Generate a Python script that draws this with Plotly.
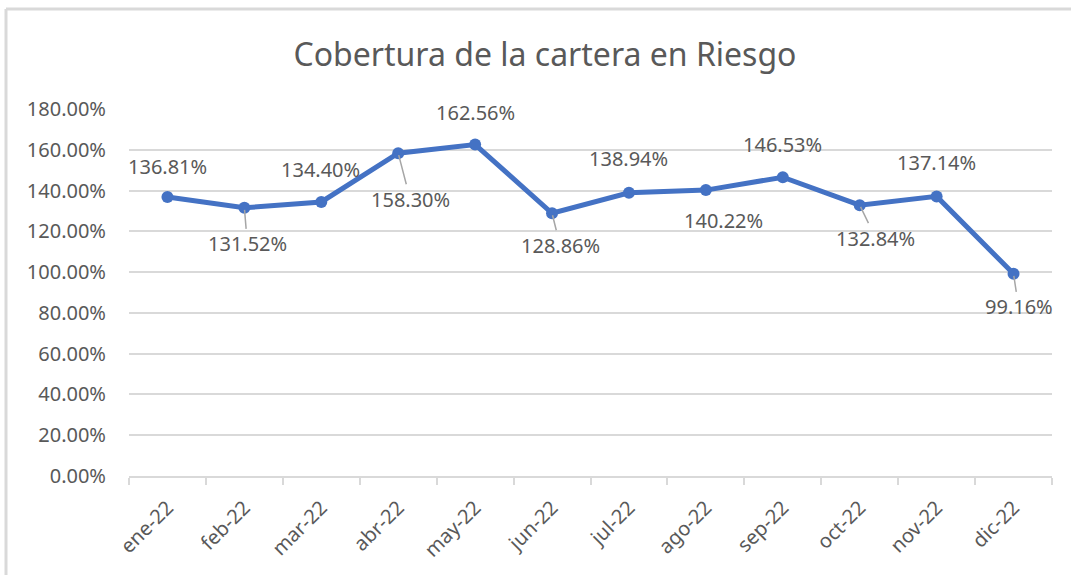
import plotly.graph_objects as go

months = ["ene-22", "feb-22", "mar-22", "abr-22", "may-22", "jun-22",
          "jul-22", "ago-22", "sep-22", "oct-22", "nov-22", "dic-22"]
coverage = [136.81, 131.52, 134.40, 158.30, 162.56, 128.86,
            138.94, 140.22, 146.53, 132.84, 137.14, 99.16]
y_ticks = [0, 20, 40, 60, 80, 100, 120, 140, 160, 180]

# label offsets (px) relative to each point and whether a leader line shows
label_dx = [0, 3, -1, 12, 0, 8, 0, 18, 0, 16, 0, 5]
label_dy = [-31, 36, -32, 46, -32, 32, -34, 30, -33, 33, -34, 33]
leader = [False, True, False, True, False, True, False, False, False, True, False, True]

TXT = "#595959"
GRID = "#D9D9D9"
FONT = "Noto Sans"

fig = go.Figure()
fig.add_trace(go.Scatter(
    x=months, y=coverage, mode="lines+markers",
    line=dict(color="#4472C4", width=5),
    marker=dict(color="#4472C4", size=12),
    hoverinfo="skip", showlegend=False,
))

for m, v, dx, dy, ld in zip(months, coverage, label_dx, label_dy, leader):
    fig.add_annotation(
        x=m, y=v, text=f"{v:.2f}%", showarrow=True,
        ax=dx, ay=dy, arrowhead=0, arrowwidth=1.5, standoff=2,
        arrowcolor="#A6A6A6" if ld else "rgba(0,0,0,0)",
        font=dict(family=FONT, size=20, color=TXT),
    )

W, H = 1071, 575
L, R, T, B = 129, 19, 109, 99
pw, ph = W - L - R, H - T - B

def px_x(p):
    return (p - L) / pw

def px_y(p):
    return 1 - (p - T) / ph

# outer chart frame (top and left edges visible)
fig.add_shape(type="line", xref="paper", yref="paper",
              x0=px_x(6), x1=px_x(W), y0=px_y(9), y1=px_y(9),
              line=dict(color=GRID, width=3), layer="below")
fig.add_shape(type="line", xref="paper", yref="paper",
              x0=px_x(6), x1=px_x(6), y0=px_y(9), y1=px_y(H),
              line=dict(color=GRID, width=3), layer="below")

fig.update_layout(
    width=W, height=H,
    margin=dict(l=L, r=R, t=T, b=B),
    paper_bgcolor="white", plot_bgcolor="white",
    title=dict(text="Cobertura de la cartera en Riesgo",
               x=545 / W, xref="container", xanchor="center",
               y=1 - 55 / H, yref="container", yanchor="middle",
               font=dict(family=FONT, size=32, color=TXT)),
    font=dict(family=FONT, color=TXT),
)
fig.update_xaxes(
    type="category", range=[-0.5, len(months) - 0.5],
    tickson="boundaries", ticks="outside", ticklen=7,
    tickcolor=GRID, tickwidth=1.5, showline=True, linecolor=GRID, linewidth=2,
    showgrid=False, tickangle=-45, automargin=False, ticklabelstandoff=10,
    tickfont=dict(family=FONT, size=20, color=TXT),
)
fig.update_yaxes(
    range=[0, 180], tickvals=y_ticks,
    ticktext=[f"{t:.2f}%" for t in y_ticks],
    showgrid=True, gridcolor=GRID, gridwidth=1.5, zeroline=False,
    showline=False, ticks="", automargin=False, ticklabelstandoff=22,
    tickfont=dict(family=FONT, size=20, color=TXT),
)

fig.write_html(
    "out.html",
    config={"displayModeBar": False},
    post_script="document.body.style.margin='0';document.body.style.overflow='hidden';",
)
